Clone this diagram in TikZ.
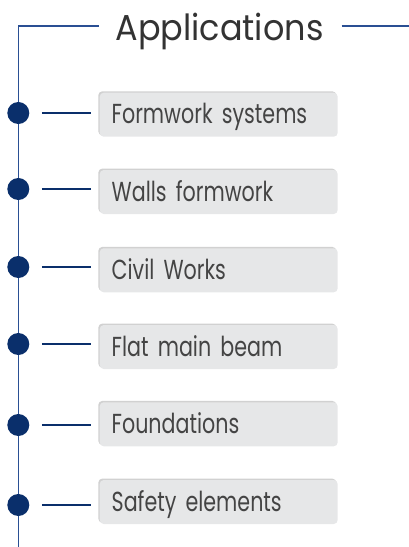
\documentclass[tikz,border=0pt]{standalone}
\usepackage{fontspec}
\setmainfont[FakeStretch=0.75]{Poppins}
\newfontfamily\titlefont[FakeStretch=0.93]{Poppins}
\usetikzlibrary{shadows}
\definecolor{navy}{HTML}{0A2F6B}
\definecolor{rulblue}{HTML}{2A4F93}
\definecolor{boxgray}{HTML}{E6E7E8}
\definecolor{txtgray}{HTML}{444444}

\begin{document}
\begin{tikzpicture}[x=1pt,y=-1pt]

	\tikzstyle{appbox} = [rounded corners=4pt,fill=boxgray,minimum width=238pt,minimum height=44pt,anchor=west,
		inner xsep=12pt,inner ysep=0pt,text width=214pt,align=left,text=txtgray,
		text height=24pt,text depth=6pt,font=\fontsize{27.5}{30}\selectfont,
		drop shadow={shadow xshift=-1.4pt,shadow yshift=1.4pt,fill=black!40,opacity=.45}]
	\tikzstyle{bullet} = [circle,fill=navy,minimum size=22pt,inner sep=0pt]
	\tikzstyle{stem} = [navy,line width=2pt,shorten <=12.4pt,shorten >=8.8pt]

	\useasboundingbox (0,0) rectangle (409,547);

	% title and frame
	\node[anchor=base,font=\titlefont\fontsize{36}{40}\selectfont,text=black!80] (title) at (219.5,40) {Applications};
	\coordinate (topleft) at (18.3,26);
	\coordinate (titleleft) at (99,26);
	\coordinate (titleright) at (341.7,26);
	\coordinate (rightend) at (409,26);
	\coordinate (bottom) at (18.3,547);
	\draw[rulblue,line width=1.5pt] (bottom) -- (topleft) -- (titleleft);
	\draw[rulblue,line width=1.5pt] (titleright) -- (rightend);

	\node[appbox] (app1) at (99.5,114.7) {Formwork systems};
	\node[appbox] (app2) at (99.5,192) {Walls formwork};
	\node[appbox] (app3) at (99.5,270.3) {Civil Works};
	\node[appbox] (app4) at (99.5,347) {Flat main beam};
	\node[appbox] (app5) at (99.5,424.3) {Foundations};
	\node[appbox] (app6) at (99.5,502) {Safety elements};

	\node[bullet] (dot1) at (18.3,113) {};
	\node[bullet] (dot2) at (18.3,189) {};
	\node[bullet] (dot3) at (18.3,267) {};
	\node[bullet] (dot4) at (18.3,344) {};
	\node[bullet] (dot5) at (18.3,425) {};
	\node[bullet] (dot6) at (18.3,505) {};

	\draw[stem] (dot1) -- (dot1 -| app1.west);
	\draw[stem] (dot2) -- (dot2 -| app2.west);
	\draw[stem] (dot3) -- (dot3 -| app3.west);
	\draw[stem] (dot4) -- (dot4 -| app4.west);
	\draw[stem] (dot5) -- (dot5 -| app5.west);
	\draw[stem] (dot6) -- (dot6 -| app6.west);
\end{tikzpicture}
\end{document}
